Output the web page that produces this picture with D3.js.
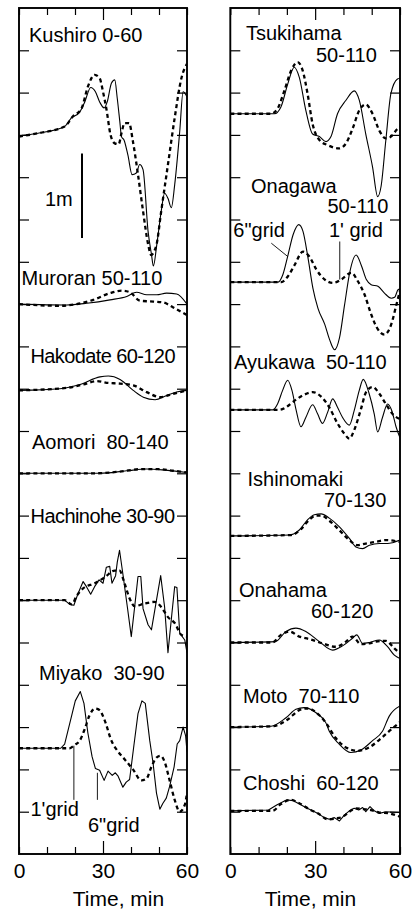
<!DOCTYPE html>
<html>
<head>
<meta charset="utf-8">
<script src="https://cdn.jsdelivr.net/npm/d3@7"></script>
<style>
  body { margin: 0; background: #fff; }
  svg { display: block; font-family: 'Liberation Sans', Arial, Helvetica, sans-serif; }
  text { white-space: pre; }
</style>
</head>
<body>
<div id="root"></div>
<script>
// time axis (min)
const timeTicks = [0, 10, 20, 30, 40, 50, 60];
const timeLabels = [0, 30, 60];

// [time min, water level m]; fine = 6" grid (solid), coarse = 1' grid (dotted)
const kushiroFine = [[0,-0.01],[6.8,0.02],[16.3,0.1],[18.7,0.2],[21.7,0.27],[23.5,0.39],[25.6,0.56],[27.3,0.51],[28.8,0.39],[30.4,0.32],[31.5,0.39],[33,0.61],[34.2,0.65],[35.1,0.43],[36,0.16],[36.6,-0.02],[37.5,-0.06],[38.9,-0.24],[40.4,-0.47],[41.9,-0.45],[43.1,-0.35],[44.3,-0.41],[46.1,-1.14],[47.3,-1.41],[48,-1.55],[49.2,-1.3],[50.8,-0.9],[52,-0.69],[53.2,-0.75],[54.4,-0.86],[55.6,-0.59],[57.4,0.04],[58.6,0.51],[60,0.45]];
const kushiroCoarse = [[0,-0.02],[6.8,0.02],[16.3,0.1],[19.3,0.22],[22.3,0.31],[24.6,0.57],[27,0.71],[28.8,0.67],[30,0.51],[31.2,0.31],[32.7,0],[34.2,-0.1],[35.6,-0.11],[36.6,0.02],[37.7,0.14],[39.3,0.14],[40.7,-0.08],[42.5,-0.47],[44.3,-0.9],[46.1,-1.29],[47.2,-1.42],[48.2,-1.38],[49.1,-1.3],[50.8,-0.9],[53.2,-0.35],[55.6,0.2],[58,0.67],[60,0.84]];
const muroranFine = [[0,0],[17,-0.01],[24.2,0.01],[32.5,0.05],[38.5,0.09],[42,0.14],[45.6,0.11],[49.2,0.11],[52.7,0.13],[56.3,0.12],[60,0]];
const muroranCoarse = [[0,0],[14.6,-0.02],[20.6,0],[26.5,0.05],[32.5,0.13],[36.7,0.16],[39.6,0.14],[43.2,0.04],[48,0.03],[51.5,0.02],[55.1,-0.04],[60,-0.13]];
const hakodateFine = [[0,-0.02],[14.6,0],[21.8,0.05],[28.9,0.14],[31.9,0.15],[36.1,0.11],[40.8,-0.02],[44.4,-0.1],[48.6,-0.13],[52.7,-0.08],[56.3,-0.04],[60,-0.02]];
const hakodateCoarse = [[0,-0.02],[17,0.01],[23,0.05],[27.7,0.09],[31.3,0.07],[36.1,0.06],[40.8,0.04],[45.6,-0.04],[50.4,-0.1],[55.1,-0.06],[60,-0.02]];
const aomoriFine = [[0,0],[28.9,0],[38.5,0.03],[45.6,0.05],[51.5,0.04],[60,0.01]];
const aomoriCoarse = [[0,0],[27,0],[36,0.02],[44,0.05],[50,0.05],[55,0.03],[60,0.01]];
const hachinoheFine = [[0,0],[16.3,0],[18.1,-0.05],[19.6,-0.06],[21.1,0.08],[22.9,0.22],[24.1,0.16],[25.6,0.07],[27,0.16],[28.6,0.24],[30,0.2],[31.2,0.39],[32.4,0.4],[33.2,0.2],[34.5,0.29],[35.1,0.45],[35.9,0.59],[37.1,0.31],[38.7,-0.08],[40.1,-0.43],[41.3,-0.08],[42.5,0.28],[43.5,0.28],[44.3,-0.1],[46.1,-0.29],[47.3,-0.35],[49.1,0],[50.6,0.29],[52,-0.08],[53.2,-0.62],[54.6,-0.16],[55.6,0.16],[56.4,0.15],[57.4,-0.39],[59.2,-0.47],[60,-0.62]];
const hachinoheCoarse = [[0,0],[16.3,0],[18.9,-0.05],[20.4,0.04],[22.9,0.14],[27,0.2],[30.6,0.27],[34.2,0.35],[35.9,0.35],[37.7,0.2],[39.5,0.02],[41.3,-0.07],[44.8,-0.04],[48.4,-0.02],[50.8,-0.08],[53.2,-0.2],[55.6,-0.27],[58,-0.41],[60,-0.43]];
const miyakoFine = [[0,0],[14.9,0],[16.3,0.05],[18.7,0.37],[20.1,0.56],[21.9,0.67],[23.2,0.53],[24.6,0.18],[26.1,-0.1],[27.3,-0.24],[28.8,-0.26],[30.4,-0.38],[31.8,-0.27],[33.3,-0.32],[34.4,-0.29],[35.4,-0.33],[37.1,-0.46],[38.3,-0.4],[39.5,-0.37],[41.1,0.05],[42.5,0.41],[43.9,0.56],[45.1,0.53],[46.7,0.09],[47.9,-0.18],[49.1,-0.53],[50.3,-0.72],[51.4,-0.65],[52.6,-0.59],[53.8,-0.45],[55.4,-0.22],[56.5,0.05],[57.4,0.09],[58.6,0.25],[59.5,0.15],[60,-0.04]];
const miyakoCoarse = [[0,0],[18.1,0],[19.9,0.04],[21.7,0.09],[23.5,0.23],[25.2,0.39],[27.3,0.47],[28.8,0.45],[30.6,0.33],[33,0.09],[35.4,-0.04],[37.7,-0.13],[40.7,-0.25],[43.7,-0.38],[45.5,-0.36],[47.3,-0.22],[49.1,-0.11],[50.6,-0.09],[52,-0.16],[53.8,-0.38],[55.6,-0.61],[57.4,-0.75],[59.2,-0.67],[60,-0.53]];

const tsukihamaFine = [[0,0],[15.6,0],[17.9,0.08],[20.3,0.35],[22.6,0.55],[24.4,0.43],[26.7,0.04],[29.1,-0.24],[31.5,-0.27],[33.8,-0.33],[35.6,-0.27],[37.9,0],[40.9,0.16],[43.8,0.27],[45.6,0.16],[47.9,-0.24],[50.3,-0.63],[52.1,-0.98],[53.3,-0.86],[55,-0.31],[56.8,0.24],[59.1,0.41],[60,0.42]];
const tsukihamaCoarse = [[0,0],[14.4,0],[16.7,0.06],[19.1,0.27],[21.5,0.51],[23.8,0.61],[25.6,0.51],[27.3,0.24],[29.1,-0.12],[31.5,-0.31],[34.4,-0.37],[38.5,-0.41],[40.9,-0.35],[43.2,-0.18],[45.6,0.04],[47.9,0.11],[50.3,0],[52.7,-0.2],[55,-0.29],[56.8,-0.27],[59.1,-0.18],[60,-0.16]];
const onagawaFine = [[0,0],[16.9,0],[18.6,0.09],[20.4,0.32],[22.2,0.56],[24.2,0.68],[25.7,0.6],[27.5,0.28],[29.2,-0.07],[31,-0.31],[33.4,-0.5],[35.1,-0.68],[36.9,-0.8],[38.6,-0.66],[40.4,-0.27],[42.2,0.11],[44.5,0.32],[46.3,0.2],[48.1,0.03],[49.8,-0.03],[52.2,-0.05],[54.5,-0.13],[56.9,-0.19],[58.1,-0.18],[59.3,-0.09],[60,-0.08]];
const onagawaCoarse = [[0,0],[18,0],[20.4,0.07],[22.7,0.2],[25.7,0.36],[28,0.3],[30.4,0.15],[33.4,0.03],[36.3,-0.01],[39.2,0.03],[42.8,0.11],[45.1,0.01],[47.5,-0.15],[49.8,-0.38],[52.2,-0.56],[54.5,-0.62],[56.9,-0.5],[58.7,-0.27],[60,-0.1]];
const ayukawaFine = [[0,0],[15,0],[16.7,0.07],[18.5,0.23],[20.3,0.35],[21.8,0.23],[23.2,0.01],[25,-0.2],[26.7,-0.09],[29.1,0.06],[30.9,-0.05],[32.6,-0.16],[34.4,-0.03],[36.2,0.13],[37.9,0.03],[39.7,-0.09],[42.1,-0.18],[43.8,-0.01],[45.6,0.23],[47,0.36],[49.1,0.19],[50.9,-0.05],[52.1,-0.26],[53.8,-0.09],[55.6,0.07],[57.1,-0.01],[58.6,-0.2],[60,-0.33]];
const ayukawaCoarse = [[0,0],[17.3,0],[19.7,0.03],[22,0.09],[25.6,0.17],[29.1,0.21],[32,0.16],[35,0.03],[37.9,-0.16],[40.3,-0.28],[42.1,-0.34],[43.8,-0.24],[46.2,0.01],[48,0.21],[50.3,0.27],[52.7,0.19],[55,0.07],[57.4,-0.05],[60,-0.11]];
const ishinomakiFine = [[0,0],[20.9,0.01],[24.4,0.07],[27.3,0.19],[29.7,0.25],[32.1,0.26],[35,0.21],[38.5,0.11],[42.1,-0.03],[44.4,-0.13],[46.8,-0.15],[49.2,-0.11],[52.7,-0.09],[55.6,-0.09],[57.4,-0.08],[60,-0.05]];
const ishinomakiCoarse = [[0,0],[21.5,0.01],[25,0.08],[27.9,0.19],[30.3,0.24],[32.1,0.24],[35,0.18],[38.5,0.07],[42.1,-0.05],[45,-0.11],[47.9,-0.09],[51.5,-0.07],[55,-0.05],[60,-0.07]];
const onahamaFine = [[0,0],[15.9,0.01],[19.7,0.13],[23.2,0.17],[26.7,0.13],[31.5,0.01],[36.2,-0.09],[39.7,-0.04],[43.2,0.05],[44.7,0.09],[46.8,-0.01],[49.2,0],[52.7,0.03],[55.6,-0.05],[58,-0.15],[60,-0.19]];
const onahamaCoarse = [[0,0],[14.8,0],[17.9,0.09],[20.9,0.13],[24.4,0.07],[27.9,0.04],[32.6,-0.01],[37.3,-0.05],[40.9,0.01],[43.2,0.07],[46.2,-0.02],[49.2,-0.01],[51.5,0.01],[55,0.02],[58,-0.07],[60,-0.13]];
const motoFine = [[0,0],[14.4,0.01],[19.7,0.11],[23.2,0.21],[26.1,0.23],[30.3,0.17],[33.8,0.05],[35,-0.05],[38.5,-0.2],[42.6,-0.3],[46.2,-0.27],[50.3,-0.16],[53.8,-0.05],[56.2,0.13],[60,0.25]];
const motoCoarse = [[0,0],[15,0.01],[20.3,0.09],[24.4,0.2],[27.3,0.22],[31.5,0.14],[33.8,0.05],[37.3,-0.13],[40.9,-0.24],[45,-0.28],[49.1,-0.24],[52.7,-0.15],[56.8,-0.03],[60,0.06]];
const choshiFine = [[0,0],[13.5,0.01],[16.4,0.07],[20,0.13],[22.3,0.12],[26.7,0.04],[30.3,-0.02],[33.3,-0.08],[35,-0.1],[36.8,-0.08],[38.6,-0.12],[40.3,-0.05],[42.1,0],[43.8,0.03],[45.4,0.01],[46.8,0.04],[47.9,-0.01],[49.4,0.05],[50.9,0],[52.7,-0.03],[55,-0.01],[60,-0.02]];
const choshiCoarse = [[0,0],[14.9,0],[17.9,0.08],[21.5,0.13],[24.4,0.09],[27.9,0.02],[31.5,-0.04],[34.4,-0.1],[37.3,-0.09],[39.7,-0.07],[42.1,-0.01],[44.4,0.03],[46.8,0.02],[49.7,0.01],[52.7,-0.02],[56.2,-0.03],[60,-0.07]];

// station labels (text lines)
const leftLabels = [['Kushiro 0-60'], ['Muroran 50-110'], ['Hakodate 60-120'], ['Aomori  80-140'], ['Hachinohe 30-90'], ['Miyako  30-90']];
const rightLabels = [['Tsukihama', '50-110'], ['Onagawa', '50-110'], ['Ayukawa  50-110'], ['Ishinomaki', '70-130'], ['Onahama', '60-120'], ['Moto  70-110'], ['Choshi  60-120']];

// ---- layout ----
const width = 412;
const height = 911;
const plotTop = 8;
const plotBottom = 854;
const labelSize = 20;

// baseline of each trace, in m on the stacked axis (0 at bottom, 10 at top)
const leftBase = [8.5, 6.5, 5.5, 4.5, 3.0, 1.25];
const rightBase = [8.75, 6.76, 5.25, 3.76, 2.5, 1.5, 0.51];
// label lines [x, baseline y, max width] in px
const leftLabelPos = [[[29, 41.5, 118]], [[21.5, 285, 150]], [[30.5, 363, 145]], [[32, 449, 144]], [[30.5, 523, 144.5]], [[39, 680, 131]]];
const rightLabelPos = [[[246, 40, 102], [316, 62, 63]], [[251, 193, 90], [327.5, 213, 63.5]], [[234, 369, 160]],
  [[247.5, 486, 98.5], [324, 507, 65]], [[239, 597, 93], [311, 618, 63]], [[243, 703, 125]], [[243, 790, 145]]];

const panels = [
  {
    x0: 19, x1: 187, titleX: 118.5,
    series: [[kushiroFine, kushiroCoarse], [muroranFine, muroranCoarse], [hakodateFine, hakodateCoarse],
      [aomoriFine, aomoriCoarse], [hachinoheFine, hachinoheCoarse], [miyakoFine, miyakoCoarse]],
    jagged: [false, false, false, false, true, true],
    base: leftBase, labels: leftLabels, labelPos: leftLabelPos,
  },
  {
    x0: 230.3, x1: 400, titleX: 310.5,
    series: [[tsukihamaFine, tsukihamaCoarse], [onagawaFine, onagawaCoarse], [ayukawaFine, ayukawaCoarse],
      [ishinomakiFine, ishinomakiCoarse], [onahamaFine, onahamaCoarse], [motoFine, motoCoarse], [choshiFine, choshiCoarse]],
    jagged: [false, false, false, false, false, false, true],
    base: rightBase, labels: rightLabels, labelPos: rightLabelPos,
  },
];

const svg = d3.select('#root').append('svg')
  .attr('width', width)
  .attr('height', height);

const y = d3.scaleLinear().domain([0, 10]).range([plotBottom, plotTop]);
const yTicks = d3.range(0.5, 10, 0.5);

// tighten letter spacing only when text runs wider than the measured width
function label(g, x, yPos, t, w) {
  const el = g.append('text')
    .attr('x', x)
    .attr('y', yPos)
    .attr('font-size', labelSize)
    .text(t);
  const natural = el.node().getComputedTextLength();
  if (w && natural > w) el.attr('textLength', w).attr('lengthAdjust', 'spacing');
  return el;
}

panels.forEach((p, pi) => {
  const x = d3.scaleLinear().domain([0, 60]).range([p.x0, p.x1]);
  const g = svg.append('g');

  g.append('clipPath').attr('id', `clip${pi}`)
    .append('rect')
    .attr('x', p.x0).attr('y', plotTop)
    .attr('width', p.x1 - p.x0).attr('height', plotBottom - plotTop);

  // inward ticks
  const leftAxis = d3.axisLeft(y).tickValues(yTicks).tickSizeInner(-10).tickSizeOuter(0).tickFormat('');
  const rightAxis = d3.axisRight(y).tickValues(yTicks).tickSizeInner(-10).tickSizeOuter(0).tickFormat('');
  g.append('g').attr('transform', `translate(${p.x0},0)`).call(leftAxis);
  g.append('g').attr('transform', `translate(${p.x1},0)`).call(rightAxis);

  const xb = g.append('g')
    .attr('transform', `translate(0,${plotBottom})`)
    .call(d3.axisBottom(x).tickValues(timeTicks).tickSizeInner(-7).tickSizeOuter(0).tickPadding(9)
      .tickFormat(d => timeLabels.includes(d) ? d : ''));
  xb.selectAll('.tick text')
    .attr('font-size', 21)
    .attr('font-family', "'Liberation Sans', Arial, sans-serif")
    .attr('fill', '#000');
  xb.selectAll('.tick line').filter(d => d === 30).attr('y2', -13);

  const xt = g.append('g')
    .attr('transform', `translate(0,${plotTop})`)
    .call(d3.axisTop(x).tickValues(timeTicks).tickSizeInner(-7).tickSizeOuter(0).tickFormat(''));
  xt.selectAll('.tick line').filter(d => d === 30).attr('y2', 12);

  g.selectAll('.domain').remove();
  g.selectAll('.tick line').attr('stroke', '#000').attr('stroke-width', 1.2);

  g.append('rect')
    .attr('x', p.x0).attr('y', plotTop)
    .attr('width', p.x1 - p.x0).attr('height', plotBottom - plotTop)
    .attr('fill', 'none').attr('stroke', '#000').attr('stroke-width', 1.9);

  g.append('text')
    .attr('x', p.titleX).attr('y', 906)
    .attr('text-anchor', 'middle')
    .attr('font-size', 21)
    .text('Time, min');

  // traces
  const traces = g.append('g').attr('clip-path', `url(#clip${pi})`);
  p.series.forEach((pair, i) => {
    const b = p.base[i];
    const line = d3.line()
      .x(d => x(d[0]))
      .y(d => y(b + d[1]));
    traces.append('path')
      .datum(pair[0])
      .attr('fill', 'none').attr('stroke', '#000').attr('stroke-width', 1.1)
      .attr('stroke-linejoin', 'round')
      .attr('d', line.curve(p.jagged[i] ? d3.curveLinear : d3.curveMonotoneX));
    traces.append('path')
      .datum(pair[1])
      .attr('fill', 'none').attr('stroke', '#000').attr('stroke-width', 2.3)
      .attr('stroke-dasharray', '4,3.2')
      .attr('d', line.curve(d3.curveMonotoneX));
  });

  // station labels
  p.labels.forEach((lines, i) => {
    lines.forEach((t, j) => {
      const [lx, ly, lw] = p.labelPos[i][j];
      label(g, lx, ly, t, lw);
    });
  });

  if (pi === 0) {
    // 1 m scale bar
    g.append('line')
      .attr('x1', 82).attr('x2', 82)
      .attr('y1', y(7.28)).attr('y2', y(8.28))
      .attr('stroke', '#000').attr('stroke-width', 2);
    label(g, 45, 205.5, '1m', 28);
    // grid annotations for Miyako
    g.append('line')
      .attr('x1', x(19.6)).attr('x2', x(19.6))
      .attr('y1', y(1.28)).attr('y2', y(0.64))
      .attr('stroke', '#000').attr('stroke-width', 0.9);
    g.append('line')
      .attr('x1', x(28)).attr('x2', x(28))
      .attr('y1', y(0.96)).attr('y2', y(0.64))
      .attr('stroke', '#000').attr('stroke-width', 0.9);
    label(g, 30.5, 816, "1'grid", 50);
    label(g, 88, 832, '6"grid', 54);
  } else {
    // grid annotations for Onagawa
    g.append('line')
      .attr('x1', x(14.5)).attr('x2', x(20.4))
      .attr('y1', y(7.22)).attr('y2', y(7.06))
      .attr('stroke', '#000').attr('stroke-width', 0.9);
    g.append('line')
      .attr('x1', x(38.7)).attr('x2', x(38.7))
      .attr('y1', y(7.24)).attr('y2', y(6.79))
      .attr('stroke', '#000').attr('stroke-width', 0.9);
    label(g, 233.3, 237, '6"grid', 53);
    label(g, 329, 237, "1' grid", 54);
  }
});
</script>
</body>
</html>
